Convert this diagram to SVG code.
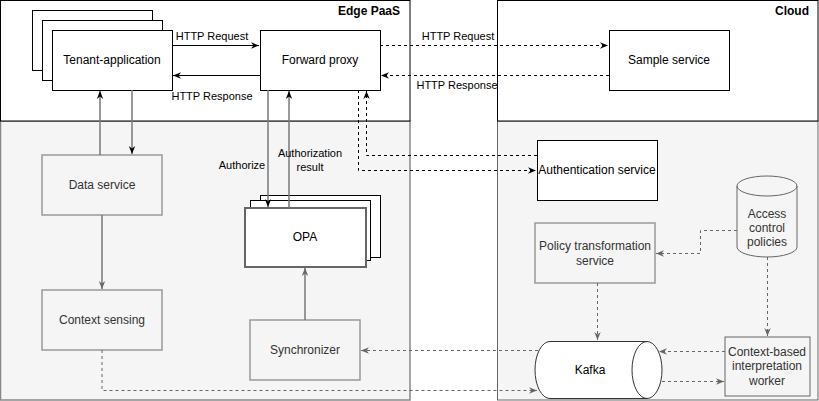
<svg xmlns="http://www.w3.org/2000/svg" width="819" height="401" viewBox="0 0 819 401">
<style>
text{font-family:"Liberation Sans",Arial,sans-serif;font-size:12px;fill:#000;text-anchor:middle}
.t{fill:#333}
.lbl{font-size:11px}
.bold{font-weight:bold;text-anchor:end}
.w{fill:#fff;stroke:#000;stroke-width:1}
.g{fill:#f5f5f5;stroke:#999;stroke-width:1.5}
.g6{fill:#f5f5f5;stroke:#666;stroke-width:1}
.ln{fill:none;stroke:#000;stroke-width:1}
.lg{fill:none;stroke:#777;stroke-width:1.5}
.dk{fill:none;stroke:#000;stroke-width:1;stroke-dasharray:3 3}
.dg{fill:none;stroke:#666;stroke-width:1;stroke-dasharray:3 3}
</style>
<defs>
<marker id="ab" viewBox="0 0 10 10" refX="10" refY="5" markerWidth="8" markerHeight="8" markerUnits="userSpaceOnUse" orient="auto"><path d="M0,1 L10,5 L0,9 L3,5 z" fill="#000"/></marker>
<marker id="ag" viewBox="0 0 10 10" refX="10" refY="5" markerWidth="8" markerHeight="8" markerUnits="userSpaceOnUse" orient="auto"><path d="M0,1 L10,5 L0,9 L3,5 z" fill="#666"/></marker>
</defs>
<g id="edge-paas">
<rect x="0.5" y="121" width="409.5" height="279" fill="#f5f5f5" stroke="#888" stroke-width="1.5"/>
<rect x="0.5" y="0.5" width="409.5" height="120.5" fill="#fff" stroke="#000"/>
<text class="bold" x="400" y="15">Edge PaaS</text>
</g>
<g id="cloud">
<rect x="497.5" y="121" width="320.5" height="279" fill="#f5f5f5" stroke="#666" stroke-width="1"/>
<rect x="497.5" y="0.5" width="320.5" height="120.5" fill="#fff" stroke="#000"/>
<text class="bold" x="809" y="15">Cloud</text>
</g>
<g id="tenant-application">
<rect class="w" x="32.5" y="10.5" width="120" height="60"/>
<rect class="w" x="42.5" y="20.5" width="120" height="60"/>
<rect class="w" x="52.5" y="30.5" width="120" height="60"/>
<text x="112" y="64">Tenant-application</text>
</g>
<g id="forward-proxy">
<rect class="w" x="260.5" y="30.5" width="120" height="60"/>
<text x="320" y="64">Forward proxy</text>
</g>
<g id="sample-service">
<rect class="w" x="609.5" y="30.5" width="120" height="60"/>
<text x="669" y="64">Sample service</text>
</g>
<g id="data-service">
<rect class="g" x="42" y="155" width="120" height="60"/>
<text class="t" x="102" y="189">Data service</text>
</g>
<g id="context-sensing">
<rect class="g" x="42" y="290" width="120" height="60"/>
<text class="t" x="102" y="324">Context sensing</text>
</g>
<g id="opa">
<rect x="260.5" y="195.5" width="120" height="62" fill="#fff" stroke="#000"/>
<rect x="250.5" y="200.5" width="120" height="60" fill="#fff" stroke="#000"/>
<rect x="245" y="208" width="121" height="59" fill="#fff" stroke="#666" stroke-width="2"/>
<text x="305" y="241">OPA</text>
</g>
<g id="synchronizer">
<rect class="g" x="250" y="320" width="110" height="60"/>
<text class="t" x="305" y="354">Synchronizer</text>
</g>
<g id="authentication-service">
<rect class="w" x="537.5" y="140.5" width="120" height="60"/>
<text x="597" y="174">Authentication service</text>
</g>
<g id="policy-transformation-service">
<rect class="g" x="535" y="223" width="120" height="60" stroke="#aaa" stroke-width="2"/>
<text class="t" x="595" y="250">Policy transformation</text>
<text class="t" x="595" y="265">service</text>
</g>
<g id="access-control-policies">
<path d="M737,186 A30,10 0 0 1 797,186 V247 A30,10 0 0 1 737,247 Z" fill="#f5f5f5" stroke="#666"/>
<path d="M737,186 A30,10 0 0 0 797,186" fill="none" stroke="#666"/>
<text class="t" x="767" y="218">Access</text>
<text class="t" x="767" y="232">control</text>
<text class="t" x="767" y="246">policies</text>
</g>
<g id="kafka">
<path d="M550,341.5 H647 A15,28.5 0 0 1 647,398.5 H550 A15,28.5 0 0 1 550,341.5 Z" fill="#fff" stroke="#333"/>
<path d="M647,341.5 A15,28.5 0 0 0 647,398.5" fill="none" stroke="#333"/>
<text x="590" y="374">Kafka</text>
</g>
<g id="context-based-interpretation-worker">
<rect class="g6" x="725" y="337" width="85" height="59"/>
<text class="t" x="767" y="356">Context-based</text>
<text class="t" x="767" y="370">interpretation</text>
<text class="t" x="767" y="385">worker</text>
</g>
<g id="connectors">
<path class="ln" d="M172,45.5 H259" marker-end="url(#ab)"/>
<path class="ln" d="M260,75.5 H173" marker-end="url(#ab)"/>
<path class="dk" d="M380,45.5 H608" marker-end="url(#ab)"/>
<path class="dk" d="M609,75.5 H381" marker-end="url(#ab)"/>
<path class="lg" d="M132,90 V154" marker-end="url(#ab)"/>
<path class="lg" d="M100,155 V91" marker-end="url(#ab)"/>
<path class="lg" d="M268,90 V207" marker-end="url(#ab)"/>
<path class="lg" d="M289,208 V91" marker-end="url(#ab)"/>
<path class="dk" d="M358.5,90 V170.5 H536" marker-end="url(#ab)"/>
<path class="dk" d="M537,155.5 H366.5 V91" marker-end="url(#ab)"/>
<path class="lg" d="M102,215 V289" marker-end="url(#ag)"/>
<path class="lg" d="M305,320 V268" marker-end="url(#ag)"/>
<path class="dg" d="M102,350 V390.5 H537" marker-end="url(#ag)"/>
<path class="dg" d="M538,350.5 H361" marker-end="url(#ag)"/>
<path class="dg" d="M737,230.5 H700.5 V253.5 H656" marker-end="url(#ag)"/>
<path class="dg" d="M597.5,283 V340" marker-end="url(#ag)"/>
<path class="dg" d="M767.5,257 V336" marker-end="url(#ag)"/>
<path class="dg" d="M725,351.5 H659" marker-end="url(#ag)"/>
<path class="dg" d="M662,381.5 H724" marker-end="url(#ag)"/>
<text class="lbl" x="212" y="40">HTTP Request</text>
<text class="lbl" x="212" y="100">HTTP Response</text>
<text class="lbl" x="458" y="40">HTTP Request</text>
<text class="lbl" x="457" y="89">HTTP Response</text>
<text class="lbl" x="242" y="169">Authorize</text>
<text class="lbl" x="310" y="157">Authorization</text>
<text class="lbl" x="310" y="171">result</text>
</g>
</svg>
